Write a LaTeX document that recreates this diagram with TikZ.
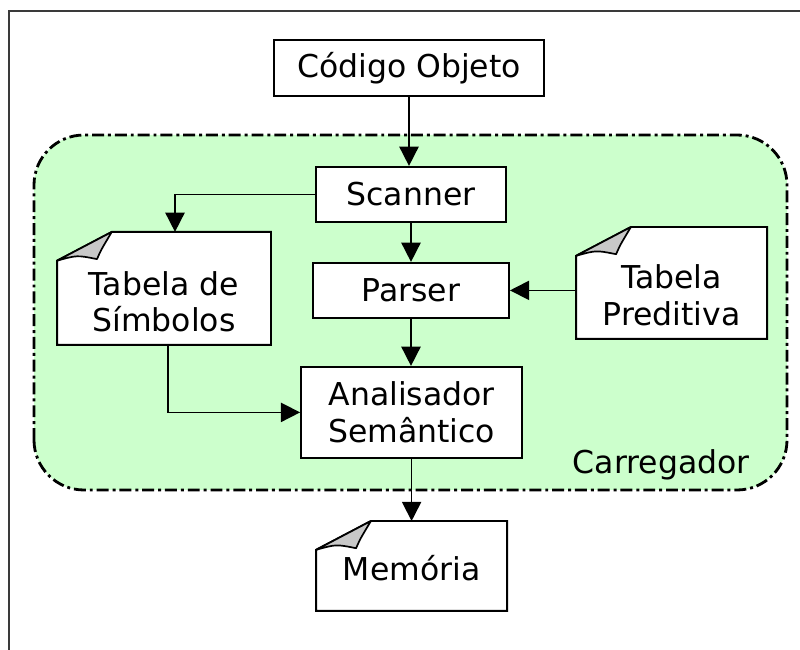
\documentclass[tikz,border=0pt]{standalone}
\usepackage{fontspec}
\setmainfont{DejaVu Sans}
\usepackage{tikz}
\usetikzlibrary{positioning, arrows.meta, backgrounds}
\definecolor{cVerde}{HTML}{CCFFCC}
\definecolor{cDobra}{HTML}{C8C8C8}
\definecolor{cMoldura}{HTML}{3A3A3A}
\tikzset{
  caixa/.style={draw, line width=1.4pt, fill=white, inner sep=2pt,
    align=center, font=\fontsize{22.4}{26}\selectfont},
  folha/.style={caixa, draw=none, fill=none},
  rotulo/.style={align=center, inner sep=0pt, font=\fontsize{22.4}{26}\selectfont},
  seta/.style={line width=1.2pt, -{Triangle[length=0.48cm, width=0.48cm]}},
  regiao/.style={draw, fill=cVerde, line width=2pt, rounded corners=1.25cm,
    dash pattern=on 8.5pt off 2.8pt on 2.1pt off 2.8pt},
}
% folha de papel com o canto dobrado
\newcommand{\folhapapel}[1]{%
  \filldraw[fill=white, line width=1.4pt] (#1.south west)
    -- ([yshift=-0.72cm]#1.north west) -- ([xshift=1.37cm]#1.north west)
    -- (#1.north east) -- (#1.south east) -- cycle;
  \filldraw[fill=cDobra, line width=1.2pt, line join=round]
    ([yshift=-0.72cm]#1.north west) -- ([xshift=1.37cm]#1.north west)
    .. controls ([shift={(1.1,-0.45)}]#1.north west) .. ([shift={(1.0,-0.68)}]#1.north west)
    .. controls ([shift={(0.5,-0.58)}]#1.north west) .. ([yshift=-0.72cm]#1.north west)
    -- cycle;
}

\begin{document}
\begin{tikzpicture}
  \useasboundingbox (0,0) rectangle (20,16.25);
  \draw[line width=1.4pt, cMoldura] (20.2,15.975) -- (0.225,15.975) -- (0.225,-0.2);

  \node[caixa, minimum width=6.75cm, minimum height=1.4cm] (obj) at (10.225,14.55) {Código Objeto};
  \node[caixa, minimum width=4.75cm, minimum height=1.375cm] (scanner) at (10.275,11.39) {Scanner};
  \node[caixa, minimum width=4.9cm, minimum height=1.375cm] (parser) at (10.275,8.99) {Parser};
  \node[caixa, minimum width=5.525cm, minimum height=2.275cm] (anasem) at (10.29,5.94) {Analisador\\Semântico};
  \node[folha, minimum width=5.3cm, minimum height=2.775cm] (tabsim) at (4.1,9.04) {};
  \node[folha, minimum width=4.725cm, minimum height=2.75cm] (tabpred) at (16.79,9.175) {};
  \node[folha, minimum width=4.725cm, minimum height=2.2cm] (mem) at (10.29,2.1) {};
  \node[rotulo] (tabsim-txt) at ([yshift=-0.33cm]tabsim) {Tabela de\\Símbolos};
  \node[rotulo] (tabpred-txt) at ([yshift=-0.3cm]tabpred) {Tabela\\Preditiva};
  \node[rotulo] (mem-txt) at ([yshift=-0.05cm]mem) {Memória};
  \node[rotulo, anchor=base east] (carreg) at (18.75,4.4) {Carregador};

  \draw[seta] (obj.south) -- (obj.south |- scanner.north);
  \draw[seta] (scanner.west) -| ([xshift=0.275cm]tabsim.north);
  \draw[seta] (scanner.south) -- (scanner.south |- parser.north);
  \draw[seta] (tabpred.west |- parser.east) -- (parser.east);
  \draw[seta] (parser.south) -- (parser.south |- anasem.north);
  \draw[seta] ([xshift=0.1cm]tabsim.south) |- (anasem.west);
  \draw[seta] (anasem.south) -- (anasem.south |- mem.north);

  \begin{scope}[on background layer]
    \draw[regiao] (0.85,4.0) rectangle (19.675,12.875);
    \folhapapel{tabsim}
    \folhapapel{tabpred}
    \folhapapel{mem}
  \end{scope}
\end{tikzpicture}
\end{document}
